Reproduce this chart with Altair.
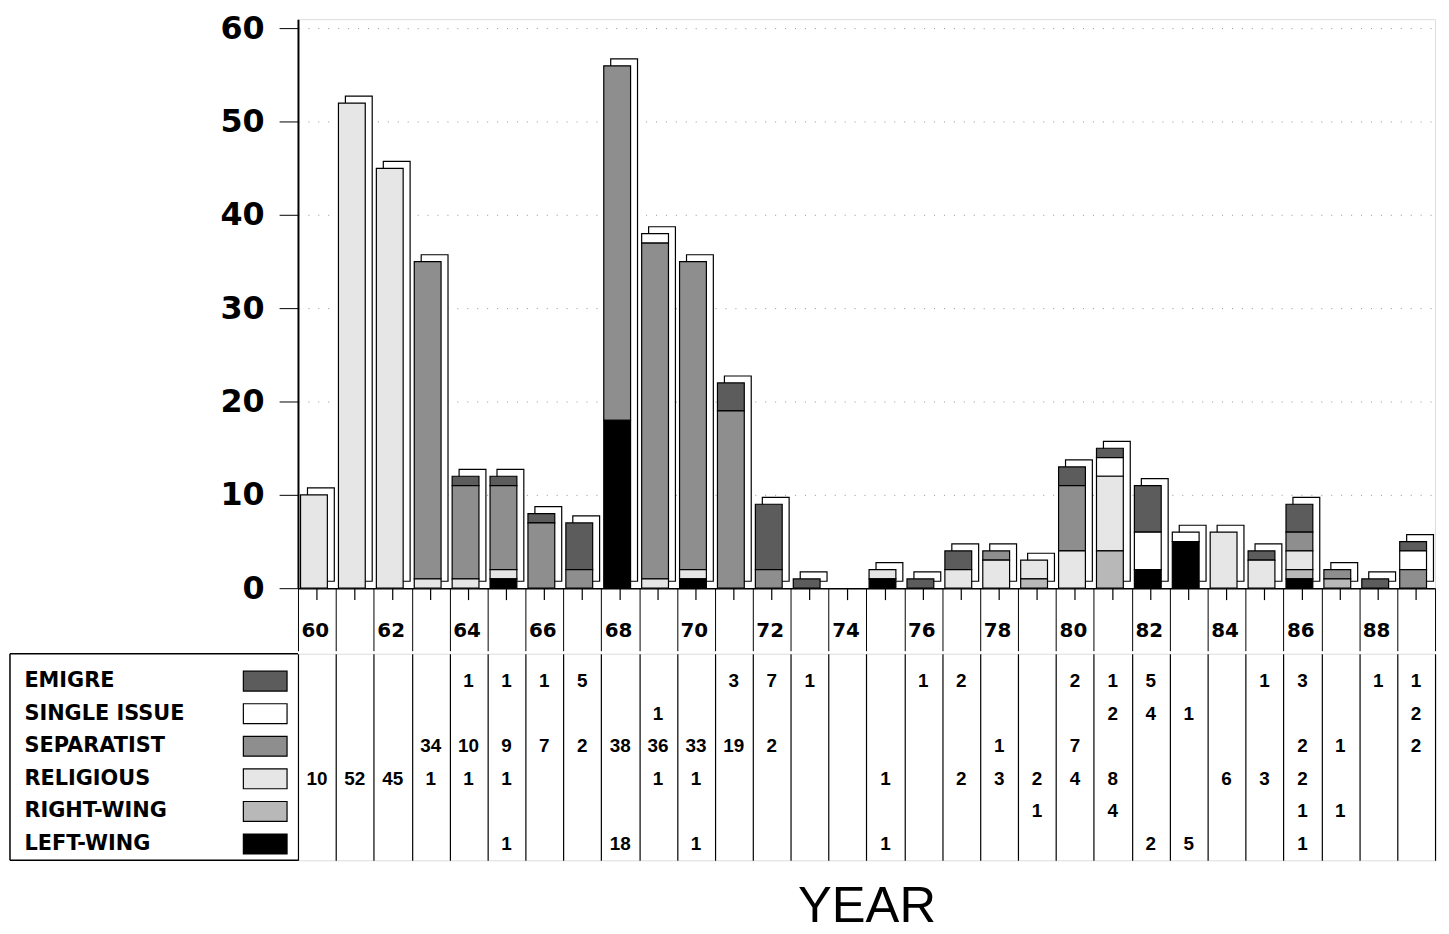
import altair as alt
import pandas as pd

years = list(range(60, 90))
categories = ["EMIGRE", "SINGLE ISSUE", "SEPARATIST", "RELIGIOUS", "RIGHT-WING", "LEFT-WING"]

emigre       = [0,0,0,0,1,1,1,5,0,0,0,3,7,1,0,0,1,2,0,0,2,1,5,0,0,1,3,0,1,1]
single_issue = [0,0,0,0,0,0,0,0,0,1,0,0,0,0,0,0,0,0,0,0,0,2,4,1,0,0,0,0,0,2]
separatist   = [0,0,0,34,10,9,7,2,38,36,33,19,2,0,0,0,0,0,1,0,7,0,0,0,0,0,2,1,0,2]
religious    = [10,52,45,1,1,1,0,0,0,1,1,0,0,0,0,1,0,2,3,2,4,8,0,0,6,3,2,0,0,0]
right_wing   = [0,0,0,0,0,0,0,0,0,0,0,0,0,0,0,0,0,0,0,1,0,4,0,0,0,0,1,1,0,0]
left_wing    = [0,0,0,0,0,1,0,0,18,0,1,0,0,0,0,1,0,0,0,0,0,0,2,5,0,0,1,0,0,0]

series = {
    "EMIGRE": emigre,
    "SINGLE ISSUE": single_issue,
    "SEPARATIST": separatist,
    "RELIGIOUS": religious,
    "RIGHT-WING": right_wing,
    "LEFT-WING": left_wing,
}
stack_order = {"LEFT-WING": 0, "RIGHT-WING": 1, "RELIGIOUS": 2, "SEPARATIST": 3, "SINGLE ISSUE": 4, "EMIGRE": 5}
fills = ["#5c5c5c", "#ffffff", "#8e8e8e", "#e6e6e6", "#b8b8b8", "#000000"]

rows = []
for cat in categories:
    for y, v in zip(years, series[cat]):
        rows.append({"year": y, "cat": cat, "value": v, "order": stack_order[cat]})
df = pd.DataFrame(rows)
nz = df[df["value"] > 0]
totals = pd.DataFrame({"year": years, "total": [sum(series[c][i] for c in categories) for i in range(len(years))]})
yr = pd.DataFrame({"year": years})

W, H, TH = 1145, 573, 208
BASE = "DejaVu Sans"

xscale = alt.Scale(domain=years, paddingInner=0, paddingOuter=0)
color = alt.Color("cat:N", scale=alt.Scale(domain=categories, range=fills), legend=None)

x_top = alt.X("year:O", scale=xscale, title=None,
              axis=alt.Axis(tickBand="extent", tickSize=63, tickColor="black", domainColor="black",
                            domainWidth=1.5, labelAngle=0, labelFont=BASE, labelFontWeight="bold",
                            labelFontSize=20, labelColor="black", labelBaseline="middle",
                            labelPadding=-20, labelAlign="left", labelOffset=-16,
                            labelExpr="datum.value % 2 == 0 ? datum.label : ''"))
y_top = alt.Y("total:Q", scale=alt.Scale(domain=[0, 61], nice=False), title=None,
              axis=alt.Axis(values=[0, 10, 20, 30, 40, 50, 60], tickSize=19, tickColor="black",
                            domainColor="black", domainWidth=2, labelFont=BASE, labelFontWeight="bold",
                            labelFontSize=32, labelColor="black", labelPadding=15,
                            grid=True, gridColor="#777777", gridDash=[1, 9], gridOpacity=0.8))

shadow = alt.Chart(totals[totals["total"] > 0]).mark_bar(
    width=27, xOffset=4, yOffset=-7, fill="white", stroke="black", strokeWidth=1.2
).encode(x=x_top, y=y_top)

bars = alt.Chart(nz).mark_bar(width=27, xOffset=-3, stroke="black", strokeWidth=1.2).encode(
    x=alt.X("year:O", scale=xscale),
    y=alt.Y("sum(value):Q", stack="zero"),
    color=color,
    order=alt.Order("order:Q", sort="ascending"),
)

center_ticks = alt.Chart(yr).mark_rule(color="black", strokeWidth=1.2).encode(
    x=alt.X("year:O", scale=xscale), y=alt.value(H), y2=alt.value(H + 12)
)

top = alt.layer(shadow, bars, center_ticks).properties(width=W, height=H)

# ---- table ----
ycat = alt.Y("cat:N", scale=alt.Scale(domain=categories, paddingInner=0, paddingOuter=0.17, align=1),
             title=None,
             axis=alt.Axis(labelAlign="left", labelPadding=276, ticks=False, domain=False,
                           labelFont=BASE, labelFontWeight="bold", labelFontSize=21,
                           labelColor="black", labelBaseline="middle"))
x_tab = alt.X("year:O", scale=xscale, title="YEAR",
              axis=alt.Axis(tickBand="extent", grid=True, gridColor="black", gridWidth=1.2,
                            gridOpacity=1, labels=False, ticks=False, domain=False,
                            titleFont="Liberation Sans", titleFontSize=51, titleFontWeight="normal",
                            titleColor="black", titlePadding=22))

nums = alt.Chart(nz).mark_text(font="Liberation Sans", fontWeight="bold", fontSize=19,
                               color="black", baseline="middle").encode(
    x=x_tab, y=ycat, text="value:Q"
)

legend_df = pd.DataFrame({"cat": categories})
swatches = alt.Chart(legend_df).mark_bar(height=20, stroke="black", strokeWidth=1.2).encode(
    y=alt.Y("cat:N", scale=alt.Scale(domain=categories, paddingInner=0, paddingOuter=0.17, align=1)),
    x=alt.value(-55), x2=alt.value(-11), color=color
)

frame_df = pd.DataFrame({"k": [0]})
frame_top = alt.Chart(frame_df).mark_rule(color="black", strokeWidth=1.5).encode(
    x=alt.value(-290), x2=alt.value(0), y=alt.value(0))
frame_bot = alt.Chart(frame_df).mark_rule(color="black", strokeWidth=1.5).encode(
    x=alt.value(-290), x2=alt.value(0), y=alt.value(TH))
frame_left = alt.Chart(frame_df).mark_rule(color="black", strokeWidth=1.5).encode(
    x=alt.value(-290), y=alt.value(0), y2=alt.value(TH))

bottom = alt.layer(nums, swatches, frame_top, frame_bot, frame_left).properties(width=W, height=TH)

chart = alt.vconcat(top, bottom, spacing=0).properties(
    padding={"left": 0, "top": 0, "right": 5, "bottom": 0}
).configure_view(stroke="black", strokeWidth=1.5).configure(background="white")

chart.save("out.html", embed_options={"renderer": "svg", "actions": False})
